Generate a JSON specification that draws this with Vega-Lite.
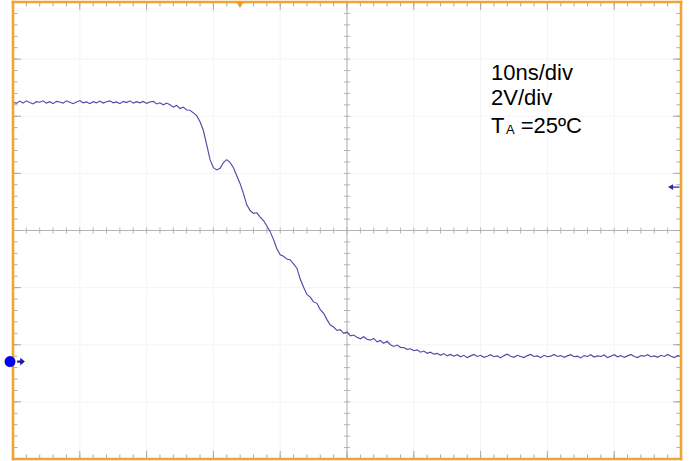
{
  "$schema": "https://vega.github.io/schema/vega-lite/v6.json",
  "width": 668,
  "height": 457,
  "autosize": {"type": "none"},
  "padding": {"left": 13, "top": 2, "right": 8, "bottom": 2},
  "background": "white",
  "config": {"view": {"stroke": null}},
  "datasets": {
    "wave": [
      {"t":0,"v":4.50},{"t":0.5,"v":4.45},{"t":1,"v":4.53},{"t":1.5,"v":4.46},{"t":2,"v":4.54},{"t":2.5,"v":4.48},{"t":3,"v":4.43},{"t":3.5,"v":4.51},{"t":4,"v":4.49},{"t":4.5,"v":4.54},
      {"t":5,"v":4.46},{"t":5.5,"v":4.51},{"t":6,"v":4.44},{"t":6.5,"v":4.52},{"t":7,"v":4.50},{"t":7.5,"v":4.46},{"t":8,"v":4.54},{"t":8.5,"v":4.49},{"t":9,"v":4.44},{"t":9.5,"v":4.50},
      {"t":10,"v":4.55},{"t":10.5,"v":4.47},{"t":11,"v":4.50},{"t":11.5,"v":4.44},{"t":12,"v":4.51},{"t":12.5,"v":4.47},{"t":13,"v":4.53},{"t":13.5,"v":4.46},{"t":14,"v":4.51},{"t":14.5,"v":4.54},
      {"t":15,"v":4.47},{"t":15.5,"v":4.50},{"t":16,"v":4.44},{"t":16.5,"v":4.52},{"t":17,"v":4.48},{"t":17.5,"v":4.54},{"t":18,"v":4.46},{"t":18.5,"v":4.51},{"t":19,"v":4.47},{"t":19.5,"v":4.52},
      {"t":20,"v":4.45},{"t":20.5,"v":4.50},{"t":21,"v":4.52},{"t":21.5,"v":4.43},{"t":22,"v":4.47},{"t":22.5,"v":4.40},{"t":23,"v":4.46},
      {"t":23.5,"v":4.40},{"t":24,"v":4.32},{"t":24.5,"v":4.38},{"t":25,"v":4.27},{"t":25.5,"v":4.32},{"t":26,"v":4.22},{"t":26.5,"v":4.21},{"t":27,"v":4.12},{"t":27.5,"v":4.02},
      {"t":28,"v":3.81},{"t":28.5,"v":3.50},{"t":29,"v":3.00},{"t":29.5,"v":2.48},{"t":30,"v":2.20},{"t":30.5,"v":2.12},{"t":31,"v":2.18},{"t":31.5,"v":2.38},{"t":32,"v":2.48},{"t":32.5,"v":2.38},
      {"t":33,"v":2.20},{"t":33.5,"v":1.92},{"t":34,"v":1.64},{"t":34.5,"v":1.29},{"t":35,"v":0.90},{"t":35.5,"v":0.70},{"t":36,"v":0.60},{"t":36.5,"v":0.62},{"t":37,"v":0.47},{"t":37.5,"v":0.35},
      {"t":38,"v":0.16},{"t":38.5,"v":-0.04},{"t":39,"v":-0.32},{"t":39.5,"v":-0.64},{"t":40,"v":-0.85},{"t":40.5,"v":-0.90},{"t":41,"v":-1.00},{"t":41.5,"v":-1.03},{"t":42,"v":-1.17},{"t":42.5,"v":-1.32},
      {"t":43,"v":-1.70},{"t":43.5,"v":-1.99},{"t":44,"v":-2.24},{"t":44.5,"v":-2.33},{"t":45,"v":-2.50},{"t":45.5,"v":-2.55},{"t":46,"v":-2.77},{"t":46.5,"v":-2.90},{"t":47,"v":-3.12},{"t":47.5,"v":-3.31},
      {"t":48,"v":-3.38},{"t":48.5,"v":-3.50},{"t":49,"v":-3.47},{"t":49.5,"v":-3.60},{"t":50,"v":-3.55},{"t":50.5,"v":-3.69},{"t":51,"v":-3.66},{"t":51.5,"v":-3.74},{"t":52,"v":-3.79},{"t":52.5,"v":-3.72},
      {"t":53,"v":-3.81},{"t":53.5,"v":-3.84},{"t":54,"v":-3.78},{"t":54.5,"v":-3.90},{"t":55,"v":-3.85},{"t":55.5,"v":-3.95},{"t":56,"v":-3.88},{"t":56.5,"v":-4.00},{"t":57,"v":-4.06},{"t":57.5,"v":-4.01},
      {"t":58,"v":-4.09},{"t":58.5,"v":-4.10},{"t":59,"v":-4.16},{"t":59.5,"v":-4.14},{"t":60,"v":-4.21},{"t":60.5,"v":-4.18},{"t":61,"v":-4.26},{"t":61.5,"v":-4.22},{"t":62,"v":-4.30},{"t":62.5,"v":-4.26},
      {"t":63,"v":-4.33},{"t":63.5,"v":-4.30},{"t":64,"v":-4.37},{"t":64.5,"v":-4.31},{"t":65,"v":-4.39},{"t":65.5,"v":-4.34},{"t":66,"v":-4.40},
      {"t":66.5,"v":-4.35},{"t":67,"v":-4.42},{"t":67.5,"v":-4.37},{"t":68,"v":-4.45},{"t":68.5,"v":-4.39},{"t":69,"v":-4.34},{"t":69.5,"v":-4.41},{"t":70,"v":-4.37},{"t":70.5,"v":-4.44},{"t":71,"v":-4.40},
      {"t":71.5,"v":-4.35},{"t":72,"v":-4.42},{"t":72.5,"v":-4.39},{"t":73,"v":-4.46},{"t":73.5,"v":-4.38},{"t":74,"v":-4.33},{"t":74.5,"v":-4.40},{"t":75,"v":-4.44},{"t":75.5,"v":-4.37},{"t":76,"v":-4.41},
      {"t":76.5,"v":-4.45},{"t":77,"v":-4.38},{"t":77.5,"v":-4.34},{"t":78,"v":-4.41},{"t":78.5,"v":-4.39},{"t":79,"v":-4.45},{"t":79.5,"v":-4.37},{"t":80,"v":-4.42},{"t":80.5,"v":-4.40},{"t":81,"v":-4.34},
      {"t":81.5,"v":-4.41},{"t":82,"v":-4.38},{"t":82.5,"v":-4.44},{"t":83,"v":-4.39},{"t":83.5,"v":-4.35},{"t":84,"v":-4.42},{"t":84.5,"v":-4.40},{"t":85,"v":-4.46},{"t":85.5,"v":-4.38},{"t":86,"v":-4.41},
      {"t":86.5,"v":-4.35},{"t":87,"v":-4.43},{"t":87.5,"v":-4.39},{"t":88,"v":-4.41},{"t":88.5,"v":-4.36},{"t":89,"v":-4.45},{"t":89.5,"v":-4.40},{"t":90,"v":-4.35},{"t":90.5,"v":-4.42},{"t":91,"v":-4.38},
      {"t":91.5,"v":-4.44},{"t":92,"v":-4.39},{"t":92.5,"v":-4.34},{"t":93,"v":-4.41},{"t":93.5,"v":-4.45},{"t":94,"v":-4.38},{"t":94.5,"v":-4.40},{"t":95,"v":-4.35},{"t":95.5,"v":-4.42},{"t":96,"v":-4.39},
      {"t":96.5,"v":-4.44},{"t":97,"v":-4.37},{"t":97.5,"v":-4.41},{"t":98,"v":-4.34},{"t":98.5,"v":-4.40},{"t":99,"v":-4.45},{"t":99.5,"v":-4.38},{"t":100,"v":-4.41}
    ],
    "xminor": [
      {"t":0},{"t":2},{"t":4},{"t":6},{"t":8},{"t":10},{"t":12},{"t":14},{"t":16},{"t":18},{"t":20},{"t":22},{"t":24},{"t":26},{"t":28},{"t":30},{"t":32},{"t":34},{"t":36},{"t":38},
      {"t":40},{"t":42},{"t":44},{"t":46},{"t":48},{"t":50},{"t":52},{"t":54},{"t":56},{"t":58},{"t":60},{"t":62},{"t":64},{"t":66},{"t":68},{"t":70},{"t":72},{"t":74},{"t":76},{"t":78},
      {"t":80},{"t":82},{"t":84},{"t":86},{"t":88},{"t":90},{"t":92},{"t":94},{"t":96},{"t":98},{"t":100}
    ],
    "yminor": [
      {"v":-8},{"v":-7.6},{"v":-7.2},{"v":-6.8},{"v":-6.4},{"v":-6},{"v":-5.6},{"v":-5.2},{"v":-4.8},{"v":-4.4},{"v":-4},{"v":-3.6},{"v":-3.2},{"v":-2.8},{"v":-2.4},{"v":-2},{"v":-1.6},{"v":-1.2},{"v":-0.8},{"v":-0.4},
      {"v":0},{"v":0.4},{"v":0.8},{"v":1.2},{"v":1.6},{"v":2},{"v":2.4},{"v":2.8},{"v":3.2},{"v":3.6},{"v":4},{"v":4.4},{"v":4.8},{"v":5.2},{"v":5.6},{"v":6},{"v":6.4},{"v":6.8},{"v":7.2},{"v":7.6},{"v":8}
    ],
    "xmajor": [{"t":0},{"t":10},{"t":20},{"t":30},{"t":40},{"t":50},{"t":60},{"t":70},{"t":80},{"t":90},{"t":100}],
    "ymajor": [{"v":-8},{"v":-6},{"v":-4},{"v":-2},{"v":0},{"v":2},{"v":4},{"v":6},{"v":8}],
    "labels": [
      {"t":71.56,"v":5.27,"label":"10ns/div","kind":"main"},
      {"t":71.56,"v":4.394,"label":"2V/div","kind":"main"},
      {"t":71.56,"v":3.403,"label":"T","kind":"main"},
      {"t":73.8,"v":3.37,"label":"A","kind":"sub"},
      {"t":76.0,"v":3.403,"label":"=25ºC","kind":"main"}
    ]
  },
  "layer": [
    {
      "data": {"name": "xmajor"},
      "mark": {"type": "rule", "color": "#f4f4f4", "strokeWidth": 1},
      "encoding": {
        "x": {"field": "t", "type": "quantitative", "scale": {"domain": [0, 100], "nice": false}, "axis": null}
      }
    },
    {
      "data": {"name": "ymajor"},
      "mark": {"type": "rule", "color": "#f4f4f4", "strokeWidth": 1},
      "encoding": {
        "y": {"field": "v", "type": "quantitative", "scale": {"domain": [-8, 8], "nice": false}, "axis": null}
      }
    },
    {
      "data": {"values": [{"t": 50}]},
      "mark": {"type": "rule", "color": "#b4b4b4", "strokeWidth": 1},
      "encoding": {
        "x": {"field": "t", "type": "quantitative", "scale": {"domain": [0, 100], "nice": false}, "axis": null}
      }
    },
    {
      "data": {"values": [{"v": 0}]},
      "mark": {"type": "rule", "color": "#b4b4b4", "strokeWidth": 1},
      "encoding": {
        "y": {"field": "v", "type": "quantitative", "scale": {"domain": [-8, 8], "nice": false}, "axis": null}
      }
    },
    {
      "data": {"name": "xminor"},
      "mark": {"type": "tick", "orient": "vertical", "size": 6, "thickness": 1, "color": "#b4b4b4", "opacity": 1},
      "encoding": {
        "x": {"field": "t", "type": "quantitative", "scale": {"domain": [0, 100], "nice": false}, "axis": null},
        "y": {"datum": 0, "type": "quantitative", "scale": {"domain": [-8, 8], "nice": false}, "axis": null}
      }
    },
    {
      "data": {"name": "yminor"},
      "mark": {"type": "tick", "orient": "horizontal", "size": 6, "thickness": 1, "color": "#b4b4b4", "opacity": 1},
      "encoding": {
        "y": {"field": "v", "type": "quantitative", "scale": {"domain": [-8, 8], "nice": false}, "axis": null},
        "x": {"datum": 50, "type": "quantitative", "scale": {"domain": [0, 100], "nice": false}, "axis": null}
      }
    },
    {
      "data": {"name": "xminor"},
      "mark": {"type": "tick", "orient": "vertical", "size": 9, "thickness": 1, "color": "#aaaaaa", "opacity": 1, "clip": true},
      "encoding": {
        "x": {"field": "t", "type": "quantitative", "scale": {"domain": [0, 100], "nice": false}, "axis": null},
        "y": {"datum": -8, "type": "quantitative", "scale": {"domain": [-8, 8], "nice": false}, "axis": null}
      }
    },
    {
      "data": {"name": "xminor"},
      "mark": {"type": "tick", "orient": "vertical", "size": 9, "thickness": 1, "color": "#aaaaaa", "opacity": 1, "clip": true},
      "encoding": {
        "x": {"field": "t", "type": "quantitative", "scale": {"domain": [0, 100], "nice": false}, "axis": null},
        "y": {"datum": 8, "type": "quantitative", "scale": {"domain": [-8, 8], "nice": false}, "axis": null}
      }
    },
    {
      "data": {"name": "yminor"},
      "mark": {"type": "tick", "orient": "horizontal", "size": 9, "thickness": 1, "color": "#aaaaaa", "opacity": 1, "clip": true},
      "encoding": {
        "y": {"field": "v", "type": "quantitative", "scale": {"domain": [-8, 8], "nice": false}, "axis": null},
        "x": {"datum": 0, "type": "quantitative", "scale": {"domain": [0, 100], "nice": false}, "axis": null}
      }
    },
    {
      "data": {"name": "yminor"},
      "mark": {"type": "tick", "orient": "horizontal", "size": 9, "thickness": 1, "color": "#aaaaaa", "opacity": 1, "clip": true},
      "encoding": {
        "y": {"field": "v", "type": "quantitative", "scale": {"domain": [-8, 8], "nice": false}, "axis": null},
        "x": {"datum": 100, "type": "quantitative", "scale": {"domain": [0, 100], "nice": false}, "axis": null}
      }
    },
    {
      "data": {"name": "xmajor"},
      "mark": {"type": "tick", "orient": "vertical", "size": 16, "thickness": 1, "color": "#aaaaaa", "opacity": 1, "clip": true},
      "encoding": {
        "x": {"field": "t", "type": "quantitative", "scale": {"domain": [0, 100], "nice": false}, "axis": null},
        "y": {"datum": -8, "type": "quantitative", "scale": {"domain": [-8, 8], "nice": false}, "axis": null}
      }
    },
    {
      "data": {"name": "xmajor"},
      "mark": {"type": "tick", "orient": "vertical", "size": 16, "thickness": 1, "color": "#aaaaaa", "opacity": 1, "clip": true},
      "encoding": {
        "x": {"field": "t", "type": "quantitative", "scale": {"domain": [0, 100], "nice": false}, "axis": null},
        "y": {"datum": 8, "type": "quantitative", "scale": {"domain": [-8, 8], "nice": false}, "axis": null}
      }
    },
    {
      "data": {"name": "ymajor"},
      "mark": {"type": "tick", "orient": "horizontal", "size": 16, "thickness": 1, "color": "#aaaaaa", "opacity": 1, "clip": true},
      "encoding": {
        "y": {"field": "v", "type": "quantitative", "scale": {"domain": [-8, 8], "nice": false}, "axis": null},
        "x": {"datum": 0, "type": "quantitative", "scale": {"domain": [0, 100], "nice": false}, "axis": null}
      }
    },
    {
      "data": {"name": "ymajor"},
      "mark": {"type": "tick", "orient": "horizontal", "size": 16, "thickness": 1, "color": "#aaaaaa", "opacity": 1, "clip": true},
      "encoding": {
        "y": {"field": "v", "type": "quantitative", "scale": {"domain": [-8, 8], "nice": false}, "axis": null},
        "x": {"datum": 100, "type": "quantitative", "scale": {"domain": [0, 100], "nice": false}, "axis": null}
      }
    },
    {
      "data": {"name": "wave"},
      "mark": {"type": "line", "color": "#4b4ba8", "strokeWidth": 1.15},
      "encoding": {
        "x": {"field": "t", "type": "quantitative", "scale": {"domain": [0, 100], "nice": false}, "axis": null},
        "y": {"field": "v", "type": "quantitative", "scale": {"domain": [-8, 8], "nice": false}, "axis": null}
      }
    },
    {
      "data": {"values": [{"t": 0}, {"t": 100}]},
      "mark": {"type": "rule", "color": "#f0a530", "strokeWidth": 2.6, "strokeCap": "square"},
      "encoding": {
        "x": {"field": "t", "type": "quantitative", "scale": {"domain": [0, 100], "nice": false}, "axis": null}
      }
    },
    {
      "data": {"values": [{"v": -8}, {"v": 8}]},
      "mark": {"type": "rule", "color": "#f0a530", "strokeWidth": 2.6, "strokeCap": "square"},
      "encoding": {
        "y": {"field": "v", "type": "quantitative", "scale": {"domain": [-8, 8], "nice": false}, "axis": null}
      }
    },
    {
      "data": {"values": [{"t": -0.45, "v": -4.59}]},
      "mark": {"type": "point", "shape": "circle", "filled": true, "size": 120, "color": "#0000f0", "opacity": 1, "clip": false},
      "encoding": {
        "x": {"field": "t", "type": "quantitative", "scale": {"domain": [0, 100], "nice": false}, "axis": null},
        "y": {"field": "v", "type": "quantitative", "scale": {"domain": [-8, 8], "nice": false}, "axis": null}
      }
    },
    {
      "data": {"values": [{"t": 1.2, "v": -4.59}]},
      "mark": {"type": "point", "shape": "M -0.2,-1 L 1,0 L -0.2,1 Z M -1,-0.3 L -0.2,-0.3 L -0.2,0.3 L -1,0.3 Z", "filled": true, "size": 60, "color": "#1a1aa0", "opacity": 1, "clip": false},
      "encoding": {
        "x": {"field": "t", "type": "quantitative", "scale": {"domain": [0, 100], "nice": false}, "axis": null},
        "y": {"field": "v", "type": "quantitative", "scale": {"domain": [-8, 8], "nice": false}, "axis": null}
      }
    },
    {
      "data": {"values": [{"t": 98.9, "v": 1.52}]},
      "mark": {"type": "point", "shape": "M -1,0 L -0.1,-0.5 L -0.1,0.5 Z M -0.1,-0.12 L 1,-0.12 L 1,0.12 L -0.1,0.12 Z", "filled": true, "size": 130, "color": "#2a2ab0", "opacity": 1, "clip": false},
      "encoding": {
        "x": {"field": "t", "type": "quantitative", "scale": {"domain": [0, 100], "nice": false}, "axis": null},
        "y": {"field": "v", "type": "quantitative", "scale": {"domain": [-8, 8], "nice": false}, "axis": null}
      }
    },
    {
      "data": {"values": [{"t": 33.98, "v": 7.9}]},
      "mark": {"type": "point", "shape": "triangle-down", "filled": true, "size": 55, "color": "#f09a20", "opacity": 1, "clip": false},
      "encoding": {
        "x": {"field": "t", "type": "quantitative", "scale": {"domain": [0, 100], "nice": false}, "axis": null},
        "y": {"field": "v", "type": "quantitative", "scale": {"domain": [-8, 8], "nice": false}, "axis": null}
      }
    },
    {
      "data": {"name": "labels"},
      "transform": [{"filter": "datum.kind == 'main'"}],
      "mark": {"type": "text", "font": "Liberation Sans", "fontSize": 22, "align": "left", "baseline": "alphabetic", "color": "#000000"},
      "encoding": {
        "x": {"field": "t", "type": "quantitative", "scale": {"domain": [0, 100], "nice": false}, "axis": null},
        "y": {"field": "v", "type": "quantitative", "scale": {"domain": [-8, 8], "nice": false}, "axis": null},
        "text": {"field": "label"}
      }
    },
    {
      "data": {"name": "labels"},
      "transform": [{"filter": "datum.kind == 'sub'"}],
      "mark": {"type": "text", "font": "Liberation Sans", "fontSize": 13, "align": "left", "baseline": "alphabetic", "color": "#000000"},
      "encoding": {
        "x": {"field": "t", "type": "quantitative", "scale": {"domain": [0, 100], "nice": false}, "axis": null},
        "y": {"field": "v", "type": "quantitative", "scale": {"domain": [-8, 8], "nice": false}, "axis": null},
        "text": {"field": "label"}
      }
    }
  ]
}
